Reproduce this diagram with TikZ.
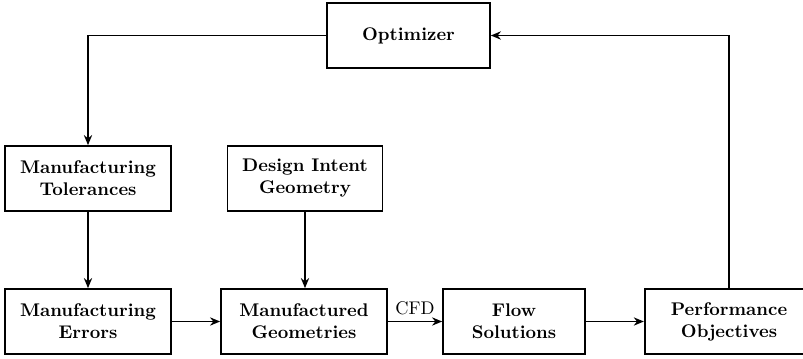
\documentclass[tikz,border=0pt]{standalone}
\usetikzlibrary{arrows.meta}

\begin{document}
\begin{tikzpicture}[x=0.5455pt, y=-0.5455pt, >={Stealth[length=5.5pt,width=4.5pt]}, line width=0.9pt,
  block/.style={draw, align=center, font=\bfseries, minimum height=35.5pt, inner sep=2pt}]

\useasboundingbox (0,0) rectangle (803,358);

\node[block, minimum width=88.9pt] (opt) at (408.5,35.5) {Optimizer};

\node[block, minimum width=90.6pt] (tol) at (88,178.5) {Manufacturing\\Tolerances};
\node[block, minimum width=84.6pt] (dig) at (305,178.5) {Design Intent\\Geometry};

\node[block, minimum width=90.6pt] (err) at (88,321.5) {Manufacturing\\Errors};
\node[block, minimum width=90.6pt] (geo) at (304,321.5) {Manufactured\\Geometries};
\node[block, minimum width=77.5pt] (flow) at (514,321.5) {Flow\\Solutions};
\node[block, minimum width=92pt] (perf) at (729,321.5) {Performance\\Objectives};

\draw[->] (opt) -| (tol);
\draw[->] (tol) to (err);
\draw[->] (dig) to (dig |- geo.north);
\draw[->] (err) to (geo);
\draw[->] (geo) to node[above] {CFD} (flow);
\draw[->] (flow) to (perf);
\draw[->] (perf) |- (opt);

\end{tikzpicture}
\end{document}
